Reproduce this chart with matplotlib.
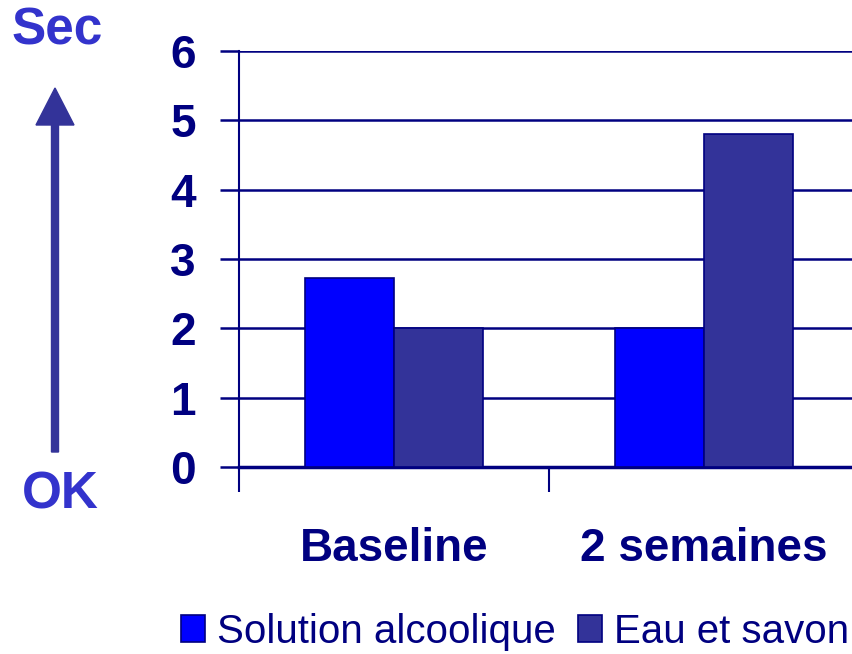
import numpy as np
import matplotlib.pyplot as plt
from matplotlib.patches import FancyArrow

# Daten
categories = ["Baseline", "2 semaines"]
solution_alcoolique = [2.73, 2.0]
eau_et_savon = [2.0, 4.8]
series_labels = ["Solution alcoolique", "Eau et savon"]
y_ticks = [0, 1, 2, 3, 4, 5, 6]

navy = "#000080"
c_blue = "#0000ff"
c_dark = "#333399"

plt.rcParams["font.family"] = ["Liberation Sans", "DejaVu Sans"]

fig = plt.figure(figsize=(8.52, 6.54), dpi=100)
W, H = 852, 654
ax = fig.add_axes([239 / W, 1 - 467 / H, 620 / W, 416 / H])

x = np.arange(len(categories)) + 0.5
bw = 0.287
ax.bar(x - bw / 2, solution_alcoolique, bw, color=c_blue, edgecolor=navy,
       linewidth=1.2, label=series_labels[0], zorder=3)
ax.bar(x + bw / 2, eau_et_savon, bw, color=c_dark, edgecolor=navy,
       linewidth=1.2, label=series_labels[1], zorder=3)

ax.set_xlim(0, len(categories))
ax.set_ylim(0, 6)
ax.set_yticks(y_ticks)
ax.set_yticklabels([str(v) for v in y_ticks], fontsize=33, fontweight="bold", color=navy)
ax.tick_params(axis="y", length=14, width=1.8, color=navy, pad=17)

# ticks sur les bords des categories
ax.set_xticks(np.arange(len(categories) + 1))
ax.set_xticklabels([])
ax.tick_params(axis="x", length=18, width=1.5, color=navy)
ax.set_xticks(x, minor=True)
ax.set_xticklabels(categories, minor=True, fontsize=33, fontweight="bold", color=navy)
ax.tick_params(axis="x", which="minor", length=0, pad=43)

ax.yaxis.grid(True, color=navy, linewidth=1.8, zorder=0)
ax.set_axisbelow(True)
for s in ["top", "right"]:
    ax.spines[s].set_visible(False)
ax.spines["left"].set_color(navy)
ax.spines["left"].set_linewidth(1.5)
ax.spines["bottom"].set_color(navy)
ax.spines["bottom"].set_linewidth(2.5)

# fleche Sec / OK
fig.text(57 / W, 1 - 31 / H, "Sec", fontsize=37, fontweight="bold", color="#3333cc",
         ha="center", va="center")
fig.text(60 / W, 1 - 495 / H, "OK", fontsize=37, fontweight="bold", color="#3333cc",
         ha="center", va="center")
arr = FancyArrow(55 / W, 1 - 452 / H, 0, (452 - 88) / H, width=7 / W,
                 head_width=38 / W, head_length=37 / H, length_includes_head=True,
                 color=c_dark, transform=fig.transFigure)
fig.patches.append(arr)

fig.legend(loc="center left", bbox_to_anchor=(181 / W, 1 - 632 / H), ncol=2,
           frameon=False, fontsize=29, labelcolor=navy, borderpad=0,
           borderaxespad=0, handlelength=0.6, handleheight=0.65,
           handletextpad=0.3, columnspacing=0.55)

fig.savefig("out.png", dpi=100)
